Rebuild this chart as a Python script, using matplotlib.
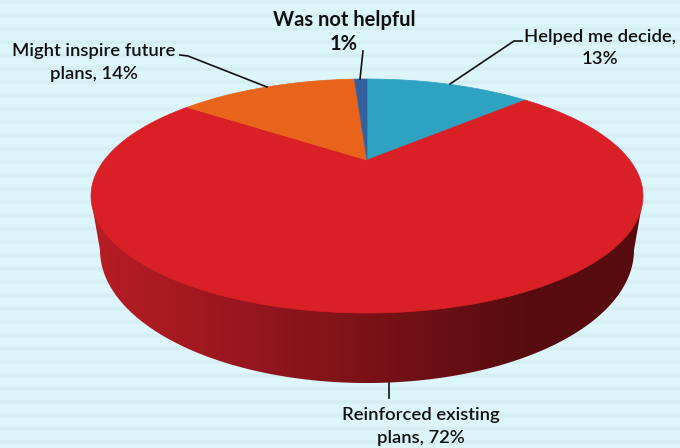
import numpy as np
import matplotlib
matplotlib.use("Agg")
import matplotlib.pyplot as plt
from matplotlib.colors import LinearSegmentedColormap
from matplotlib.patches import Polygon

# slices, clockwise from twelve o'clock
names = ["Helped me decide", "Reinforced existing plans", "Might inspire future plans", "Was not helpful"]
values = [13, 72, 14, 1]
colors = ["#2EA3C1", "#D92027", "#E9641B", "#35609F"]

plt.rcParams['font.family'] = ['Lato', 'DejaVu Sans']

fig = plt.figure(figsize=(6.8, 4.48), dpi=100)
ax = fig.add_axes([0, 0, 1, 1])

# striped background
rows = np.arange(448)
stripes = np.exp(-(((rows - 1.5 + 6.67) % 13.33 - 6.67) / 2.2) ** 2)
bg = np.zeros((448, 1, 3))
for i, (lo, hi) in enumerate(zip((221, 247, 253), (212, 238, 244))):
    bg[:, 0, i] = (lo + (hi - lo) * stripes) / 255
ax.imshow(bg, extent=(0, 680, 448, 0), aspect='auto', interpolation='bilinear', zorder=0)


# tilted disc seen in perspective: u to the right, v to the back
def project(u, v):
    w = 1 + 0.3077 * v
    return 367 + 262.6 * u / w, (160 - 56.7 * v) / w


# side wall, shaded from left to right
t = np.radians(np.linspace(180, 360, 240))
wall_x = np.r_[93, 367 + 267 * np.cos(t), 641]
wall_y = np.r_[210, 250 - 133 * np.sin(t), 210]
wall = Polygon(np.c_[wall_x, wall_y], closed=True, transform=ax.transData, fc='none', ec='none')
ax.add_patch(wall)
shade = LinearSegmentedColormap.from_list("wall", [(0, "#B81D25"), (0.3, "#94161E"), (0.55, "#741116"), (0.8, "#560C0F"), (1, "#560C0F")])
im = ax.imshow(np.linspace(0, 1, 140)[None, :], extent=(91, 643, 400, 190), aspect='auto', cmap=shade, interpolation='nearest', zorder=1)
im.set_clip_path(wall)

# top face
start = 0
for value, color in zip(values, colors):
    a = np.radians(np.linspace(start, start + value, max(value * 4, 8)) * 3.6)
    x, y = project(np.sin(a), np.cos(a))
    cx, cy = project(0, 0)
    ax.fill(np.r_[cx, x], np.r_[cy, y], color=color, lw=0.5, zorder=2)
    start += value

# leader lines
ax.plot([180, 188, 267], [55, 56, 87], color="#111111", lw=1.2, zorder=3)
ax.plot([363, 360], [51, 79], color="#111111", lw=1.2, zorder=3)
ax.plot([522, 514, 450], [41, 41, 84], color="#111111", lw=1.2, zorder=3)
ax.plot([389, 389], [383, 398], color="#111111", lw=1.2, zorder=3)

# labels
tc = "#111111"
ax.text(344, 32, "Was not helpful\n1%", ha='center', va='center', fontsize=14.5, fontweight='bold', color=tc, linespacing=1.28, zorder=4)
ax.text(94, 62.5, "Might inspire future\nplans, 14%", ha='center', va='center', fontsize=13.3, fontweight='semibold', color=tc, linespacing=1.48, zorder=4)
ax.text(600, 48, "Helped me decide,\n13%", ha='center', va='center', fontsize=13.3, fontweight='semibold', color=tc, linespacing=1.48, zorder=4)
ax.text(421, 426.5, "Reinforced existing\nplans, 72%", ha='center', va='center', fontsize=13.3, fontweight='semibold', color=tc, linespacing=1.48, zorder=4)

ax.set_xlim(0, 680)
ax.set_ylim(448, 0)
ax.axis('off')
fig.savefig("out.png", dpi=100)
